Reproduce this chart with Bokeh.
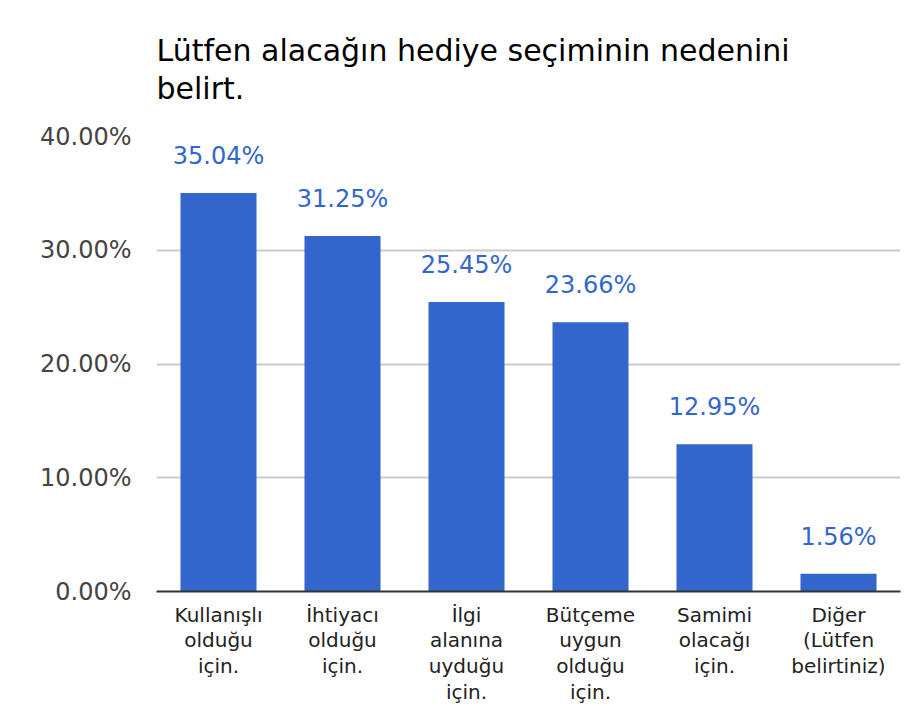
from bokeh.plotting import figure
from bokeh.models import FactorRange, FixedTicker, PrintfTickFormatter, ColumnDataSource
from bokeh.core.properties import value
from bokeh.embed import file_html
from bokeh.resources import INLINE

title_text = "Lütfen alacağın hediye seçiminin nedenini\nbelirt."
categories = [
    "Kullanışlı\nolduğu\niçin.",
    "İhtiyacı\nolduğu\niçin.",
    "İlgi\nalanına\nuyduğu\niçin.",
    "Bütçeme\nuygun\nolduğu\niçin.",
    "Samimi\nolacağı\niçin.",
    "Diğer\n(Lütfen\nbelirtiniz)",
]
values = [35.04, 31.25, 25.45, 23.66, 12.95, 1.56]
y_ticks = [0, 10, 20, 30, 40]

FONT = "DejaVu Sans"
BLUE = "#3366cc"

src = ColumnDataSource(data=dict(
    cat=categories,
    val=values,
    lab=[f"{v:.2f}%" for v in values],
))

p = figure(
    width=914, height=706,
    x_range=FactorRange(factors=categories, range_padding=0),
    y_range=(0, 40),
    output_backend="svg", toolbar_location=None,
    min_border_left=156, min_border_right=14,
    min_border_top=135, min_border_bottom=115,
)
p.outline_line_color = None
p.background_fill_color = "white"
p.border_fill_color = "white"

p.title.text = title_text
p.title.align = "left"
p.title.text_font = FONT
p.title.text_font_size = "30px"
p.title.text_font_style = "normal"
p.title.text_color = "#000000"
p.title.text_line_height = 1.11
p.title.standoff = 60

p.vbar(x="cat", top="val", width=0.613, source=src, fill_color=BLUE, line_color=None)

p.text(x="cat", y="val", text="lab", source=src,
       text_align="center", text_baseline="alphabetic", y_offset=-37,
       text_font=value(FONT), text_font_size="24px", text_color=BLUE)

# grid
p.xgrid.grid_line_color = None
p.ygrid.grid_line_color = "#cccccc"
p.ygrid.grid_line_width = 2
p.ygrid.ticker = FixedTicker(ticks=y_ticks)

# y axis
ya = p.yaxis[0]
ya.ticker = FixedTicker(ticks=y_ticks)
ya.formatter = PrintfTickFormatter(format="%.2f%%")
ya.axis_line_color = None
ya.major_tick_line_color = None
ya.minor_tick_line_color = None
ya.major_tick_out = 0
ya.major_label_standoff = 25
ya.major_label_text_font = FONT
ya.major_label_text_font_size = "24px"
ya.major_label_text_color = "#444444"

# x axis
xa = p.xaxis[0]
xa.axis_line_color = "#333333"
xa.axis_line_width = 2
xa.major_tick_line_color = None
xa.major_tick_out = 0
xa.major_label_standoff = 11
xa.major_label_text_font = FONT
xa.major_label_text_font_size = "20px"
xa.major_label_text_color = "#222222"
xa.major_label_text_line_height = 1.07
xa.major_label_orientation = "horizontal"

open("out.html", "w").write(file_html(p, INLINE))
